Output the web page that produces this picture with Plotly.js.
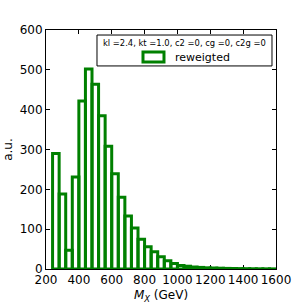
<!DOCTYPE html>
<html>
<head>
<meta charset="utf-8">
<script src="https://cdn.plot.ly/plotly-3.0.1.min.js"></script>
<style>html,body{margin:0;padding:0;background:#fff;}#chart{width:307px;height:307px;}</style>
</head>
<body>
<div id="chart"></div>
<script>
// Histogram bin centres (GeV), bin width 40 GeV
const binCenters = [260, 300, 340, 380, 420, 460, 500, 540, 580, 620, 660, 700, 740, 780, 820, 860, 900, 940, 980, 1020, 1060, 1100, 1140, 1180, 1220, 1260, 1300, 1340, 1380, 1420, 1460, 1500, 1540, 1580];
const binWidth = 40;
const counts = [290, 188, 47, 231, 422, 502, 464, 385, 308, 239, 180, 133, 103, 75, 56, 43, 31, 21, 14, 9, 7, 5, 4, 3, 2.5, 2, 1.5, 1.2, 1, 0.8, 0.6, 0.5, 0.4, 0.3];
const xTicks = [200, 400, 600, 800, 1000, 1200, 1400, 1600];
const yTicks = [0, 100, 200, 300, 400, 500, 600];
const seriesName = "reweigted";
const legendTitle = "kl =2.4, kt =1.0, c2 =0, cg =0, c2g =0";

const green = "#008000";
const font = "DejaVu Sans, sans-serif";

const trace = {
  type: "bar",
  x: binCenters,
  y: counts,
  width: binWidth,
  name: seriesName,
  marker: {color: "rgba(0,0,0,0)", line: {color: green, width: 3}},
  showlegend: false,
  hoverinfo: "x+y"
};

const layout = {
  width: 307, height: 307,
  margin: {l: 46, r: 31, t: 30, b: 38, pad: 0},
  paper_bgcolor: "#fff", plot_bgcolor: "#fff",
  font: {family: font, size: 12, color: "#000"},
  bargap: 0,
  xaxis: {
    range: [200, 1600], tickvals: xTicks, ticktext: xTicks.map(String),
    ticks: "inside", ticklen: 4, tickcolor: "#000", tickwidth: 1,
    showline: true, linecolor: "#000", linewidth: 1, mirror: "ticks",
    showgrid: false, zeroline: false, layer: "below traces",
    tickfont: {family: font, size: 12, color: "#000"},
    title: {text: "<i>M</i><sub><i>X</i></sub> (GeV)", font: {family: font, size: 12, color: "#000"}, standoff: 4}
  },
  yaxis: {
    range: [0, 600], tickvals: yTicks, ticktext: yTicks.map(String),
    ticks: "inside", ticklen: 4, tickcolor: "#000", tickwidth: 1,
    showline: true, linecolor: "#000", linewidth: 1, mirror: "ticks",
    showgrid: false, zeroline: false, layer: "below traces",
    tickfont: {family: font, size: 12, color: "#000"},
    title: {text: "a.u.", font: {family: font, size: 12, color: "#000"}, standoff: 4}
  },
  shapes: [
    {type: "rect", xref: "paper", yref: "paper", x0: 0.2217, x1: 0.9826, y0: 0.8496, y1: 0.979,
     line: {color: "#000", width: 1}, fillcolor: "#fff", layer: "above"},
    {type: "rect", xref: "paper", yref: "paper", x0: 0.4217, x1: 0.5130, y0: 0.866, y1: 0.908,
     line: {color: green, width: 3}, fillcolor: "rgba(0,0,0,0)", layer: "above"}
  ],
  annotations: [
    {xref: "paper", yref: "paper", x: 0.602, y: 0.9457, text: legendTitle, showarrow: false,
     xanchor: "center", yanchor: "middle", font: {family: font, size: 8.4, color: "#000"}},
    {xref: "paper", yref: "paper", x: 0.552, y: 0.887, text: seriesName, showarrow: false,
     xanchor: "left", yanchor: "middle", font: {family: font, size: 11, color: "#000"}}
  ]
};

Plotly.newPlot("chart", [trace], layout, {staticPlot: true, displayModeBar: false});
</script>
</body>
</html>
